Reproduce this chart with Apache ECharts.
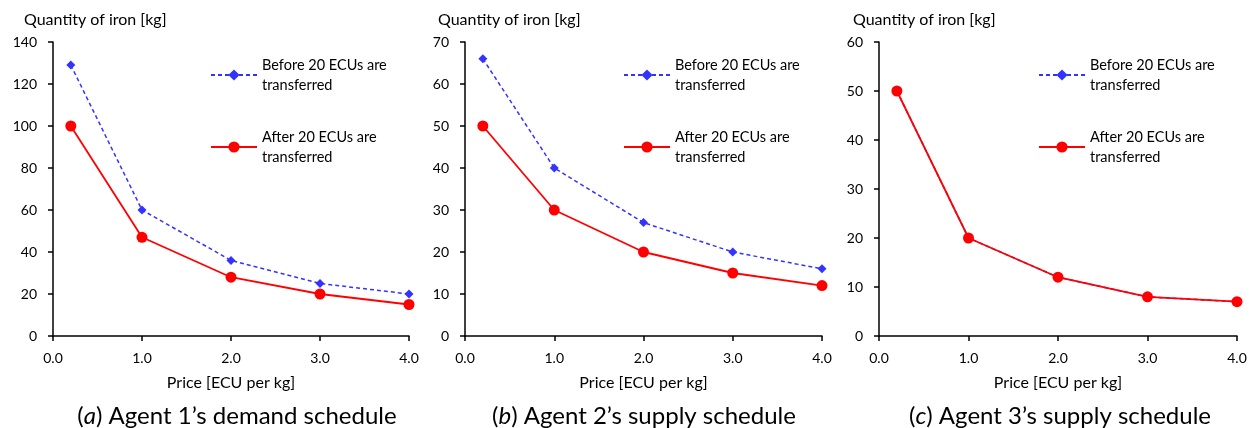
<!DOCTYPE html>
<html>
<head>
<meta charset="utf-8">
<script src="https://cdn.jsdelivr.net/npm/echarts@6/dist/echarts.min.js"></script>
<style>
html,body{margin:0;padding:0;background:#fff;}
#c{width:1251px;height:428px;}
</style>
</head>
<body>
<div id="c"></div>
<script>
const prices = [0.2, 1.0, 2.0, 3.0, 4.0];
const agent1Before = [129, 60, 36, 25, 20];
const agent1After = [100, 47, 28, 20, 15];
const agent2Before = [66, 40, 27, 20, 16];
const agent2After = [50, 30, 20, 15, 12];
const agent3Before = [50, 20, 12, 8, 7];
const agent3After = [50, 20, 12, 8, 7];
const yMax = [140, 70, 60];
const yInterval = [20, 10, 10];
const panelLetters = ['a', 'b', 'c'];
const panelCaptions = [' Agent 1\u2019s demand schedule', ' Agent 2\u2019s supply schedule', ' Agent 3\u2019s supply schedule'];
const nameBefore = 'Before 20 ECUs are transferred';
const nameAfter = 'After 20 ECUs are transferred';
const xName = 'Price [ECU per kg]';
const yName = 'Quantity of iron [kg]';

const FONT = 'Lato';
const grids = [
  {left: 53, right: 842, top: 42, bottom: 92},
  {left: 465, right: 429, top: 42, bottom: 92},
  {left: 879, right: 14, top: 42, bottom: 92}
];
const nameShift = [-29, -27, -26];
const legendLeft = [205, 618, 1033];
const captionX = [232, 639, 1055];

const befores = [agent1Before, agent2Before, agent3Before];
const afters = [agent1After, agent2After, agent3After];
const pairs = (ys) => prices.map((p, i) => [p, ys[i]]);

const axisLine = {show: true, lineStyle: {color: '#000', width: 1.5}};
const axisTick = {show: true, length: 5, lineStyle: {color: '#000', width: 1.5}};

const xAxis = grids.map((g, i) => ({
  type: 'value', gridIndex: i, min: 0, max: 4, interval: 1,
  axisLine, axisTick, splitLine: {show: false},
  axisLabel: {color: '#000', fontFamily: FONT, fontSize: 14, margin: 15, formatter: v => v.toFixed(1)},
  name: xName, nameLocation: 'middle', nameGap: 39,
  nameTextStyle: {color: '#000', fontFamily: FONT, fontSize: 16}
}));
const yAxis = grids.map((g, i) => ({
  type: 'value', gridIndex: i, min: 0, max: yMax[i], interval: yInterval[i],
  axisLine, axisTick, splitLine: {show: false},
  axisLabel: {color: '#000', fontFamily: FONT, fontSize: 14, margin: 16},
  name: yName, nameLocation: 'end', nameGap: 14,
  nameTextStyle: {color: '#000', fontFamily: FONT, fontSize: 16, align: 'left', padding: [0, 0, 0, nameShift[i]]}
}));

const series = [];
grids.forEach((g, i) => {
  series.push({
    name: nameBefore, type: 'line', xAxisIndex: i, yAxisIndex: i,
    data: pairs(befores[i]), symbol: 'diamond', symbolSize: 9,
    lineStyle: {color: '#3333ff', width: 1.5, type: [4, 3]},
    itemStyle: {color: '#3333ff'}, animation: false, z: 2
  });
  series.push({
    name: nameAfter, type: 'line', xAxisIndex: i, yAxisIndex: i,
    data: pairs(afters[i]), symbol: 'circle', symbolSize: 11,
    lineStyle: {color: '#ff0000', width: 1.8},
    itemStyle: {color: '#ff0000'}, animation: false, z: 3
  });
});

const legend = grids.map((g, i) => ({
  orient: 'vertical', left: legendLeft[i], top: 40,
  itemWidth: 46, itemHeight: 14, itemGap: 12,
  selectedMode: false,
  data: [nameBefore, nameAfter],
  formatter: n => n.replace(' transferred', '\ntransferred'),
  textStyle: {color: '#000', fontFamily: FONT, fontSize: 14.5, lineHeight: 20, padding: [20, 0, 0, 0]}
}));

const title = grids.map((g, i) => ({
  text: '{p|(}{i|' + panelLetters[i] + '}{p|)' + panelCaptions[i] + '}',
  left: captionX[i], top: 399, textAlign: 'center',
  textStyle: {fontWeight: 'normal', rich: {
    p: {fontFamily: FONT, fontSize: 24, color: '#000', fontWeight: 'normal'},
    i: {fontFamily: FONT, fontSize: 24, color: '#000', fontStyle: 'italic', fontWeight: 'normal'}
  }}
}));

const chart = echarts.init(document.getElementById('c'), null, {renderer: 'canvas'});
chart.setOption({
  animation: false,
  grid: grids, xAxis, yAxis, series, legend, title
});
</script>
</body>
</html>
